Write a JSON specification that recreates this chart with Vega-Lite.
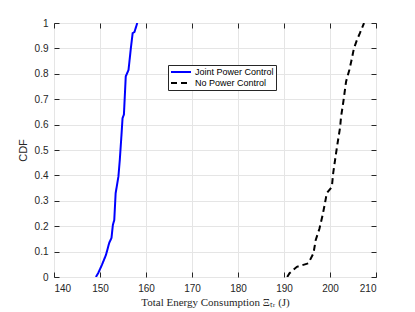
{
  "$schema": "https://vega.github.io/schema/vega-lite/v6.json",
  "width": 322,
  "height": 254,
  "autosize": "none",
  "padding": {"left": 54, "top": 23, "right": 39, "bottom": 35},
  "background": "white",
  "config": {
    "view": {"stroke": "#262626", "strokeWidth": 1},
    "axis": {"labelFont": "Liberation Sans", "labelFontSize": 10, "labelColor": "#262626", "domainColor": "#262626", "tickColor": "#262626", "gridColor": "#e5e5e5", "gridOpacity": 1}
  },
  "data": {"values": [
    {"series": "Joint Power Control", "energy": 149.1, "cdf": 0.0},
    {"series": "Joint Power Control", "energy": 149.6, "cdf": 0.015},
    {"series": "Joint Power Control", "energy": 150.4, "cdf": 0.047},
    {"series": "Joint Power Control", "energy": 151.3, "cdf": 0.087},
    {"series": "Joint Power Control", "energy": 152.0, "cdf": 0.134},
    {"series": "Joint Power Control", "energy": 152.5, "cdf": 0.154},
    {"series": "Joint Power Control", "energy": 152.8, "cdf": 0.205},
    {"series": "Joint Power Control", "energy": 153.1, "cdf": 0.224},
    {"series": "Joint Power Control", "energy": 153.4, "cdf": 0.33},
    {"series": "Joint Power Control", "energy": 154.0, "cdf": 0.395},
    {"series": "Joint Power Control", "energy": 154.3, "cdf": 0.46},
    {"series": "Joint Power Control", "energy": 154.6, "cdf": 0.54},
    {"series": "Joint Power Control", "energy": 154.9, "cdf": 0.625},
    {"series": "Joint Power Control", "energy": 155.2, "cdf": 0.64},
    {"series": "Joint Power Control", "energy": 155.6, "cdf": 0.79},
    {"series": "Joint Power Control", "energy": 156.2, "cdf": 0.815},
    {"series": "Joint Power Control", "energy": 156.7, "cdf": 0.9},
    {"series": "Joint Power Control", "energy": 157.1, "cdf": 0.96},
    {"series": "Joint Power Control", "energy": 157.5, "cdf": 0.965},
    {"series": "Joint Power Control", "energy": 158.1, "cdf": 1.0},
    {"series": "No Power Control", "energy": 190.7, "cdf": 0.0},
    {"series": "No Power Control", "energy": 191.2, "cdf": 0.015},
    {"series": "No Power Control", "energy": 192.8, "cdf": 0.04},
    {"series": "No Power Control", "energy": 195.3, "cdf": 0.054},
    {"series": "No Power Control", "energy": 196.4, "cdf": 0.093},
    {"series": "No Power Control", "energy": 196.9, "cdf": 0.146},
    {"series": "No Power Control", "energy": 197.7, "cdf": 0.19},
    {"series": "No Power Control", "energy": 198.4, "cdf": 0.244},
    {"series": "No Power Control", "energy": 198.9, "cdf": 0.29},
    {"series": "No Power Control", "energy": 199.3, "cdf": 0.33},
    {"series": "No Power Control", "energy": 200.4, "cdf": 0.355},
    {"series": "No Power Control", "energy": 200.7, "cdf": 0.41},
    {"series": "No Power Control", "energy": 201.1, "cdf": 0.46},
    {"series": "No Power Control", "energy": 201.5, "cdf": 0.51},
    {"series": "No Power Control", "energy": 202.2, "cdf": 0.59},
    {"series": "No Power Control", "energy": 202.4, "cdf": 0.63},
    {"series": "No Power Control", "energy": 202.9, "cdf": 0.69},
    {"series": "No Power Control", "energy": 203.5, "cdf": 0.77},
    {"series": "No Power Control", "energy": 204.2, "cdf": 0.815},
    {"series": "No Power Control", "energy": 204.7, "cdf": 0.855},
    {"series": "No Power Control", "energy": 205.2, "cdf": 0.9},
    {"series": "No Power Control", "energy": 205.9, "cdf": 0.935},
    {"series": "No Power Control", "energy": 206.5, "cdf": 0.96},
    {"series": "No Power Control", "energy": 207.4, "cdf": 1.0}
  ]},
  "resolve": {"axis": {"x": "independent", "y": "independent"}},
  "layer": [
    {
      "mark": {"type": "line", "strokeWidth": 2, "clip": true},
      "encoding": {
        "x": {"field": "energy", "type": "quantitative", "scale": {"domain": [140, 210], "nice": false},
          "axis": {"orient": "bottom", "values": [140,150,160,170,180,190,200,210], "tickSize": -5, "labelPadding": 11, "domain": false,
            "title": "Total Energy Consumption Ξₜᵣ (J)", "titleFont": "Liberation Serif", "titleFontSize": 11, "titleFontWeight": "normal", "titleColor": "#262626", "titlePadding": 3}},
        "y": {"field": "cdf", "type": "quantitative", "scale": {"domain": [0, 1], "nice": false},
          "axis": {"orient": "left", "values": [0,0.1,0.2,0.3,0.4,0.5,0.6,0.7,0.8,0.9,1], "format": ".1~f", "tickSize": -5, "labelPadding": 11, "domain": false,
            "title": "CDF", "titleFont": "Liberation Sans", "titleFontSize": 11, "titleFontWeight": "normal", "titleColor": "#262626", "titlePadding": 6}},
        "color": {"field": "series", "type": "nominal", "scale": {"domain": ["Joint Power Control", "No Power Control"], "range": ["#0000ff", "#000000"]},
          "legend": {"title": null, "orient": "none", "legendX": 114, "legendY": 42, "symbolType": "stroke", "symbolSize": 400, "symbolStrokeWidth": 2, "clipHeight": 10,
            "labelFont": "Liberation Sans", "labelFontSize": 9, "labelColor": "#000000", "fillColor": "white", "strokeColor": "#262626", "padding": 2, "rowPadding": 1, "labelOffset": 3}},
        "strokeDash": {"field": "series", "type": "nominal", "scale": {"domain": ["Joint Power Control", "No Power Control"], "range": [[1, 0], [6, 4]]}, "legend": null},
        "order": {"field": "cdf", "type": "quantitative"}
      }
    },
    {
      "mark": {"type": "rule", "opacity": 0},
      "encoding": {
        "x": {"datum": 140, "type": "quantitative", "axis": {"orient": "top", "values": [140,150,160,170,180,190,200,210], "tickSize": -5, "labels": false, "grid": false, "domain": false, "title": null}},
        "y": {"datum": 0, "type": "quantitative", "axis": {"orient": "right", "values": [0,0.1,0.2,0.3,0.4,0.5,0.6,0.7,0.8,0.9,1], "tickSize": -5, "labels": false, "grid": false, "domain": false, "title": null}}
      }
    }
  ]
}
